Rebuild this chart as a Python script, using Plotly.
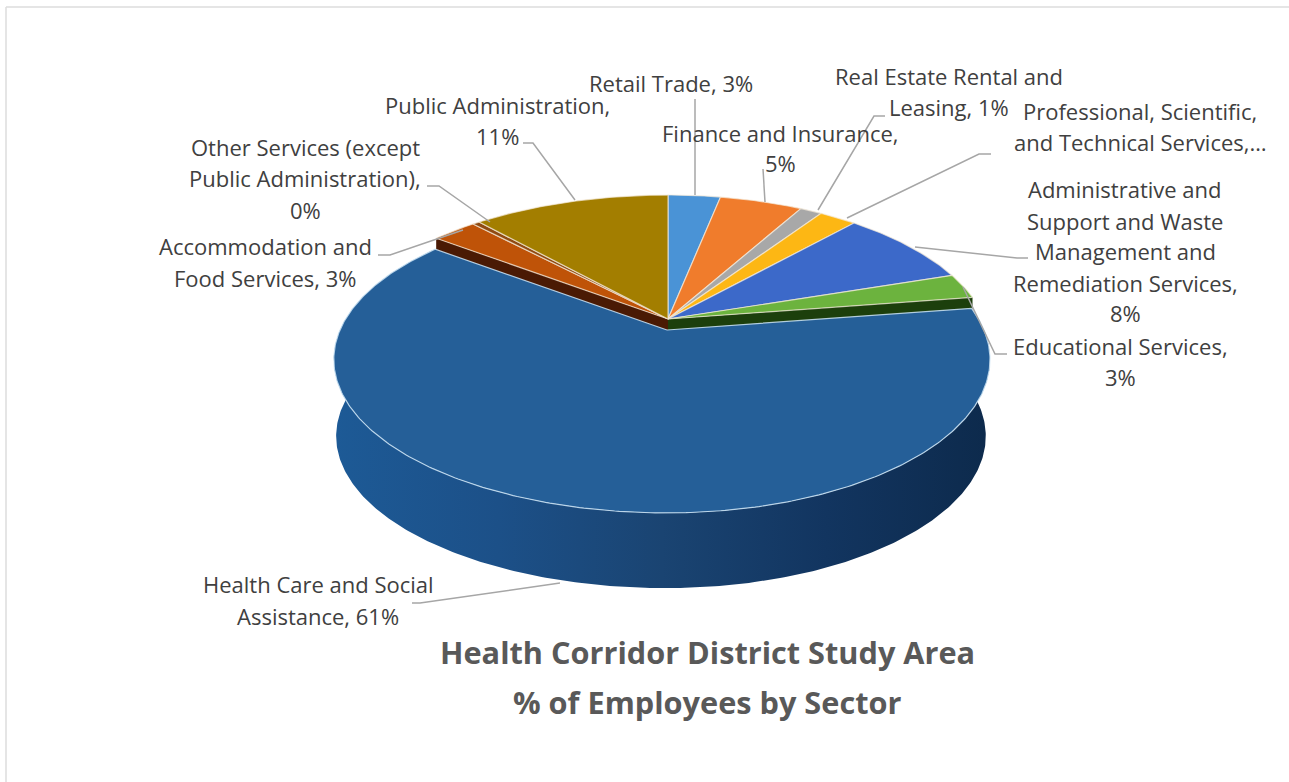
import numpy as np
import plotly.graph_objects as go

# ---- data ----
sectors = ["Retail Trade", "Finance and Insurance", "Real Estate Rental and Leasing",
           "Professional, Scientific, and Technical Services",
           "Administrative and Support and Waste Management and Remediation Services",
           "Educational Services", "Health Care and Social Assistance",
           "Accommodation and Food Services", "Other Services (except Public Administration)",
           "Public Administration"]
shares = [3.1, 4.9, 1.3, 2.2, 8.1, 2.6, 61.8, 2.6, 0.4, 11.3]
colors = ["#4a93d6", "#f07c2c", "#a8a8a8", "#fdb714", "#3c69c9", "#6cb33e", "#255f98",
          "#bf5308", "#8f4a12", "#a37e00"]
label_lines = [
    ["Retail Trade, 3%"],
    ["Finance and Insurance,", "5%"],
    ["Real Estate Rental and", "Leasing, 1%"],
    ["Professional, Scientific,", "and Technical Services,\u2026"],
    ["Administrative and", "Support and Waste", "Management and", "Remediation Services,", "8%"],
    ["Educational Services,", "3%"],
    ["Health Care and Social", "Assistance, 61%"],
    ["Accommodation and", "Food Services, 3%"],
    ["Other Services (except", "Public Administration),", "0%"],
    ["Public Administration,", "11%"],
]
label_centers = [671, 780, 949, 1140, 1125, 1120, 318, 265, 305, 497]
label_rows = [[83], [133, 163], [76, 107], [111, 142], [189, 221, 251, 283, 313],
              [346, 377], [584, 616], [246, 278], [147, 178, 210], [105, 136]]
leader_x = [[695, 695], [765, 763], [818, 874, 885], [847, 979, 991], [915, 1017, 1028],
            [963, 995, 1007], [560, 420, 412], [463, 390, 378], [490, 439, 427], [575, 533, 523]]
leader_y = [[195, 99], [202, 169], [210, 116, 116], [218, 154, 154], [247, 258, 258],
            [287, 354, 354], [583, 603, 603], [230, 255, 255], [222, 186, 186], [200, 143, 143]]
title_lines = ["Health Corridor District Study Area", "% of Employees by Sector"]

# ---- 3-D projection of the pie disc ----
K, R_Y = 0.192, 147.8
R_L, R_R = 327.0, 317.0


def project(theta, r, cx, cy, scale=1.0):
    u, v = r * np.sin(theta), r * np.cos(theta)
    d = 1 + K * v
    w = u / d
    return cx + scale * np.where(w < 0, R_L, R_R) * w, cy - scale * R_Y * v / d


def arc(a0, a1):
    return np.linspace(a0, a1, max(2, int(abs(a1 - a0) * 90)))


fractions = np.array(shares) / sum(shares)
edges = np.concatenate([[0], np.cumsum(fractions)]) * 2 * np.pi
HEALTH = sectors.index("Health Care and Social Assistance")
EDU, ACC = HEALTH - 1, HEALTH + 1
REST = (668.0, 319.0)
MAIN = (667.0, 330.0)
DEPTH_MAIN, DEPTH_SCALE = 77.0, 0.99

fig = go.Figure()


def poly(x, y, fill=None, line=None, lw=0.0, grad=None, name=""):
    kw = dict(x=np.round(x, 2).tolist(), y=np.round(y, 2).tolist(), mode="lines",
              fill="toself", hoverinfo="skip", showlegend=False, name=name,
              line=dict(color=line or "rgba(0,0,0,0)", width=lw))
    if grad:
        kw["fillgradient"] = grad
    else:
        kw["fillcolor"] = fill
    fig.add_trace(go.Scatter(**kw))


# cut faces of the neighbouring slices, seen in the gap
for idx, a, col in [(EDU, edges[EDU + 1], "#1c3f0c"), (ACC, edges[ACC], "#4a1a04")]:
    ox, oy = project(np.array([a]), 1.0, *REST)
    poly([REST[0], ox[0], ox[0], REST[0]],
         [REST[1], oy[0], oy[0] + 40, REST[1] + 40], fill=col, name=sectors[idx] + " side")

# main slice wall
a0, a1 = edges[HEALTH], edges[HEALTH + 1]
th = arc(a0, a1)
tx, ty = project(th, 1.0, *MAIN)
bx, by = project(th, 1.0, MAIN[0] - 1, MAIN[1] + DEPTH_MAIN, DEPTH_SCALE)
wall_grad = dict(type="horizontal", start=334, stop=990,
                 colorscale=[[0, "#1d5a96"], [0.25, "#1c5088"], [0.5, "#1a4472"],
                             [0.75, "#123560"], [1, "#0d2a4c"]])
poly(np.r_[tx, bx[::-1]], np.r_[ty, by[::-1]], grad=wall_grad, name="wall")

# tops
for i, (name, col) in enumerate(zip(sectors, colors)):
    t = arc(edges[i], edges[i + 1])
    c = MAIN if i == HEALTH else REST
    x, y = project(t, 1.0, *c)
    edge = "rgba(205,228,245,0.85)" if i == HEALTH else "rgba(245,235,220,0.7)"
    poly(np.r_[c[0], x, c[0]], np.r_[c[1], y, c[1]], fill=col, line=edge, lw=1.2, name=name)

# leader lines
for lx, ly in zip(leader_x, leader_y):
    fig.add_trace(go.Scatter(x=lx, y=ly, mode="lines", hoverinfo="skip", showlegend=False,
                             line=dict(color="#a6a6a6", width=1.5)))

# labels
for lines, cx, rows in zip(label_lines, label_centers, label_rows):
    for text, row in zip(lines, rows):
        fig.add_annotation(x=cx, y=row, text=text, showarrow=False, xanchor="center",
                           yanchor="middle", font=dict(family="Open Sans", size=22, color="#404040"))

for text, row in zip(title_lines, [652, 702]):
    fig.add_annotation(x=707, y=row, text="<b>%s</b>" % text, showarrow=False, xanchor="center",
                       yanchor="middle", font=dict(family="Open Sans", size=30.7, color="#595959"))

frame = dict(color="#dcdcdc", width=1.5)
fig.add_shape(type="line", x0=6, x1=1289, y0=7, y1=7, line=frame)
fig.add_shape(type="line", x0=6, x1=6, y0=7, y1=782, line=frame)

hidden = dict(visible=False, showgrid=False, zeroline=False, fixedrange=True)
fig.update_layout(width=1289, height=782, margin=dict(l=0, r=0, t=0, b=0),
                  paper_bgcolor="white", plot_bgcolor="white", showlegend=False,
                  xaxis=dict(range=[0, 1289], **hidden),
                  yaxis=dict(range=[782, 0], **hidden))
fig.write_html("out.html", config=dict(displayModeBar=False),
               post_script="document.body.style.margin='0';")
